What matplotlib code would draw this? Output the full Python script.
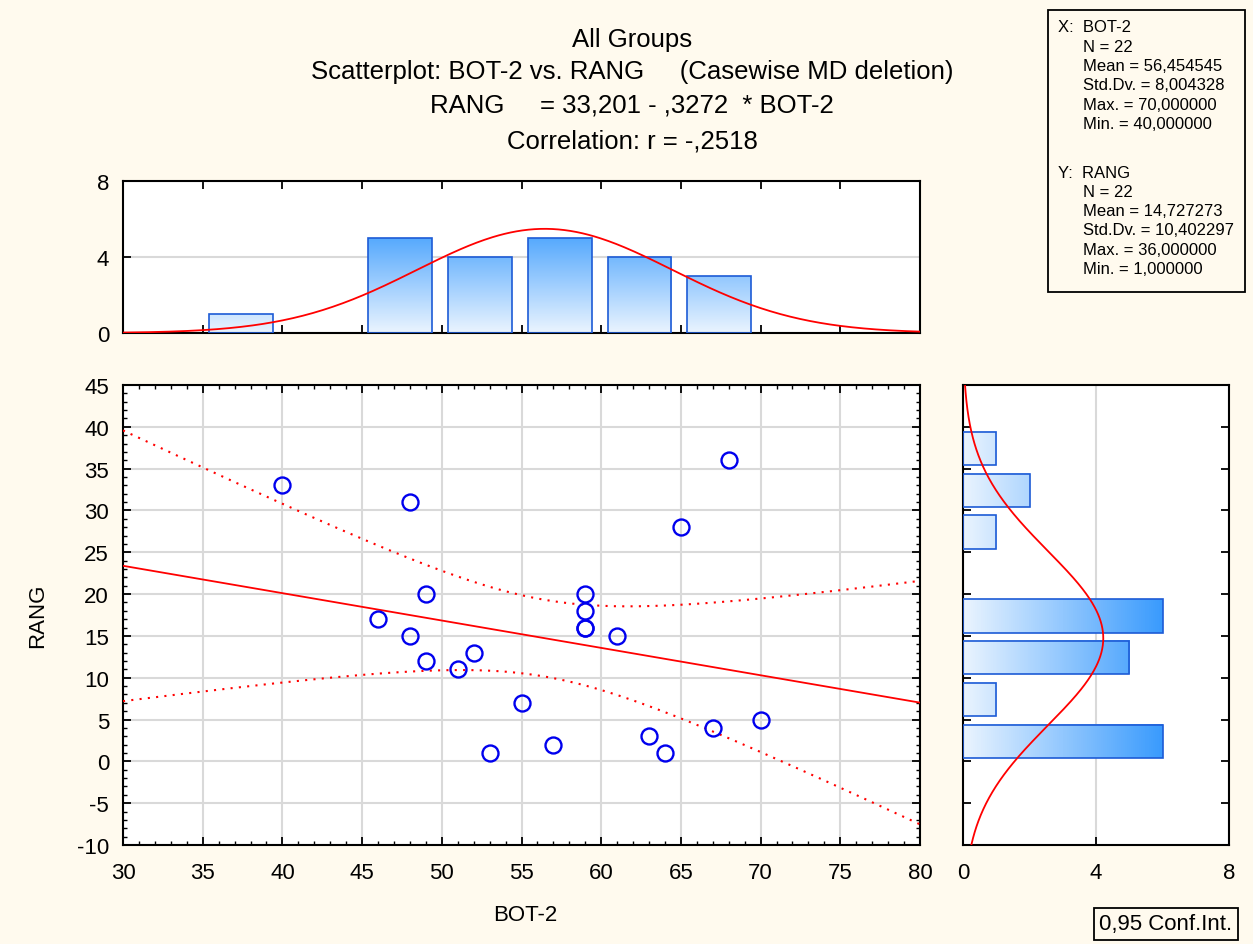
import numpy as np
import matplotlib
matplotlib.use("Agg")
import matplotlib.pyplot as plt
from matplotlib.colors import LinearSegmentedColormap
from matplotlib.patches import Rectangle
from matplotlib.ticker import MultipleLocator

plt.rcParams['font.family'] = ['Liberation Sans', 'DejaVu Sans']
plt.rcParams['axes.unicode_minus'] = False

# BOT-2 vs RANG, 22 cases
bot2 = np.array([40, 48, 46, 48, 49, 49, 51, 52, 53, 55, 57,
                 59, 59, 59, 59, 61, 63, 64, 65, 67, 68, 70])
rang = np.array([33, 31, 17, 15, 20, 12, 11, 13, 1, 7, 2,
                 20, 18, 16, 16, 15, 3, 1, 28, 4, 36, 5])

x_bins = np.arange(30, 85, 5)
y_bins = np.arange(-10, 50, 5)

title_lines = ["All Groups",
               "Scatterplot: BOT-2 vs. RANG     (Casewise MD deletion)",
               "RANG     = 33,201 - ,3272  * BOT-2",
               "Correlation: r = -,2518"]
x_stats = ["X:  BOT-2", "N = 22", "Mean = 56,454545", "Std.Dv. = 8,004328",
           "Max. = 70,000000", "Min. = 40,000000"]
y_stats = ["Y:  RANG", "N = 22", "Mean = 14,727273", "Std.Dv. = 10,402297",
           "Max. = 36,000000", "Min. = 1,000000"]

W, H = 1253, 945
BG = '#fffaee'
GRID = '#d9d9d9'
EDGE = '#1d5bd6'
cmap = LinearSegmentedColormap.from_list('bars', ['#eaf4ff', '#3a9bfd'])

fig = plt.figure(figsize=(W / 100, H / 100), dpi=100, facecolor=BG)


def ax_px(l, t, r, b):
    return fig.add_axes([l / W, 1 - b / H, (r - l) / W, (b - t) / H])


def count_bins(vals, edges):
    # bins closed on the right, like (35, 40]
    return np.array([np.sum((vals > a) & (vals <= b)) for a, b in zip(edges[:-1], edges[1:])])


def style(ax):
    for s in ax.spines.values():
        s.set_linewidth(1.5)
    ax.set_facecolor('white')
    ax.tick_params(direction='in', width=1.3, length=6, labelsize=16, pad=10)
    ax.tick_params(which='minor', direction='in', width=1.0, length=3)


def normal_pdf(t, mu, sd):
    return np.exp(-0.5 * ((t - mu) / sd) ** 2) / (sd * np.sqrt(2 * np.pi))


n = len(bot2)
mx, sx = bot2.mean(), bot2.std(ddof=1)
my, sy = rang.mean(), rang.std(ddof=1)

# ---- top histogram (BOT-2)
axt = ax_px(123, 182, 920, 334)
style(axt)
cx = count_bins(bot2, x_bins)
for left, c in zip(x_bins[:-1], cx):
    if c == 0:
        continue
    x0, x1 = left + 0.4, left + 4.4
    grad = np.linspace(0, c, 100).reshape(-1, 1)
    axt.imshow(grad, extent=(x0, x1, 0, c), origin='lower', aspect='auto',
               cmap=cmap, vmin=0, vmax=6, zorder=2)
    axt.add_patch(Rectangle((x0, 0), 4, c, fill=False, ec=EDGE, lw=1.2, zorder=3))
xx = np.linspace(30, 80, 400)
axt.plot(xx, n * 5 * normal_pdf(xx, mx, sx), color='red', lw=1.3, zorder=4)
axt.set_xlim(30, 80)
axt.set_ylim(0, 8)
axt.set_yticks([0, 4, 8])
axt.set_xticks(x_bins)
axt.tick_params(axis='x', top=True, labelbottom=False)
axt.yaxis.grid(True, color=GRID, lw=1.5, zorder=0)
axt.set_axisbelow(True)

# ---- scatter
axs = ax_px(123, 386, 920, 846)
style(axs)
axs.plot(bot2, rang, 'o', ms=11.5, mfc='none', mec='#0000ee', mew=1.7, zorder=4)
b, a = np.polyfit(bot2, rang, 1)
resid = rang - (a + b * bot2)
s = np.sqrt(np.sum(resid ** 2) / (n - 2))
sxx = np.sum((bot2 - mx) ** 2)
t = 2.086  # t(0.975, df=20)
fit = a + b * xx
half = t * s * np.sqrt(1 / n + (xx - mx) ** 2 / sxx)
axs.plot(xx, fit, color='red', lw=1.3, zorder=3)
axs.plot(xx, fit + half, color='red', lw=1.5, ls=(0, (1, 3)), zorder=3)
axs.plot(xx, fit - half, color='red', lw=1.5, ls=(0, (1, 3)), zorder=3)
axs.set_xlim(30, 80)
axs.set_ylim(-10, 45)
axs.set_xticks(x_bins)
axs.set_yticks(y_bins)
axs.xaxis.set_minor_locator(MultipleLocator(1))
axs.yaxis.set_minor_locator(MultipleLocator(1))
axs.tick_params(which='both', top=True, right=True)
axs.tick_params(axis='x', pad=12)
axs.grid(True, color=GRID, lw=1.5, zorder=0)
axs.set_axisbelow(True)
fig.text(525 / W, 1 - 916 / H, "BOT-2", ha='center', va='center', fontsize=16)
fig.text(38 / W, 1 - 616 / H, "RANG", ha='center', va='center', fontsize=16, rotation=90)

# ---- right histogram (RANG)
axr = ax_px(963, 386, 1229, 846)
style(axr)
cy = count_bins(rang, y_bins)
for low, c in zip(y_bins[:-1], cy):
    if c == 0:
        continue
    y0, y1 = low + 0.4, low + 4.4
    grad = np.linspace(0, c, 100).reshape(1, -1)
    axr.imshow(grad, extent=(0, c, y0, y1), origin='lower', aspect='auto',
               cmap=cmap, vmin=0, vmax=6, zorder=2)
    axr.add_patch(Rectangle((0, y0), c, 4, fill=False, ec=EDGE, lw=1.2, zorder=3))
yy = np.linspace(-10, 45, 400)
axr.plot(n * 5 * normal_pdf(yy, my, sy), yy, color='red', lw=1.3, zorder=4)
axr.set_xlim(0, 8)
axr.set_ylim(-10, 45)
axr.set_xticks([0, 4, 8])
axr.set_yticks(y_bins)
axr.tick_params(axis='y', right=True, labelleft=False)
axr.tick_params(axis='x', pad=12)
axr.xaxis.grid(True, color=GRID, lw=1.5, zorder=0)
axr.set_axisbelow(True)

# ---- titles
for line, py in zip(title_lines, [40, 72, 105, 142]):
    fig.text(632 / W, 1 - py / H, line, ha='center', va='center', fontsize=18.5)

# ---- stats box
fig.patches.append(Rectangle((1048 / W, 1 - 293 / H), 197 / W, 282 / H,
                             transform=fig.transFigure, fill=False, ec='black', lw=1.3))
for lines, top in [(x_stats, 28), (y_stats, 173)]:
    for i, line in enumerate(lines):
        px = 1058 if i == 0 else 1083
        fig.text(px / W, 1 - (top + i * 19.3) / H, line, ha='left', va='center', fontsize=12)

fig.text(1166 / W, 1 - 925 / H, "0,95 Conf.Int.", ha='center', va='center', fontsize=16,
         bbox=dict(boxstyle='square,pad=0.25', fc=BG, ec='black', lw=1.3))

fig.savefig("out.png", dpi=100, facecolor=BG)
